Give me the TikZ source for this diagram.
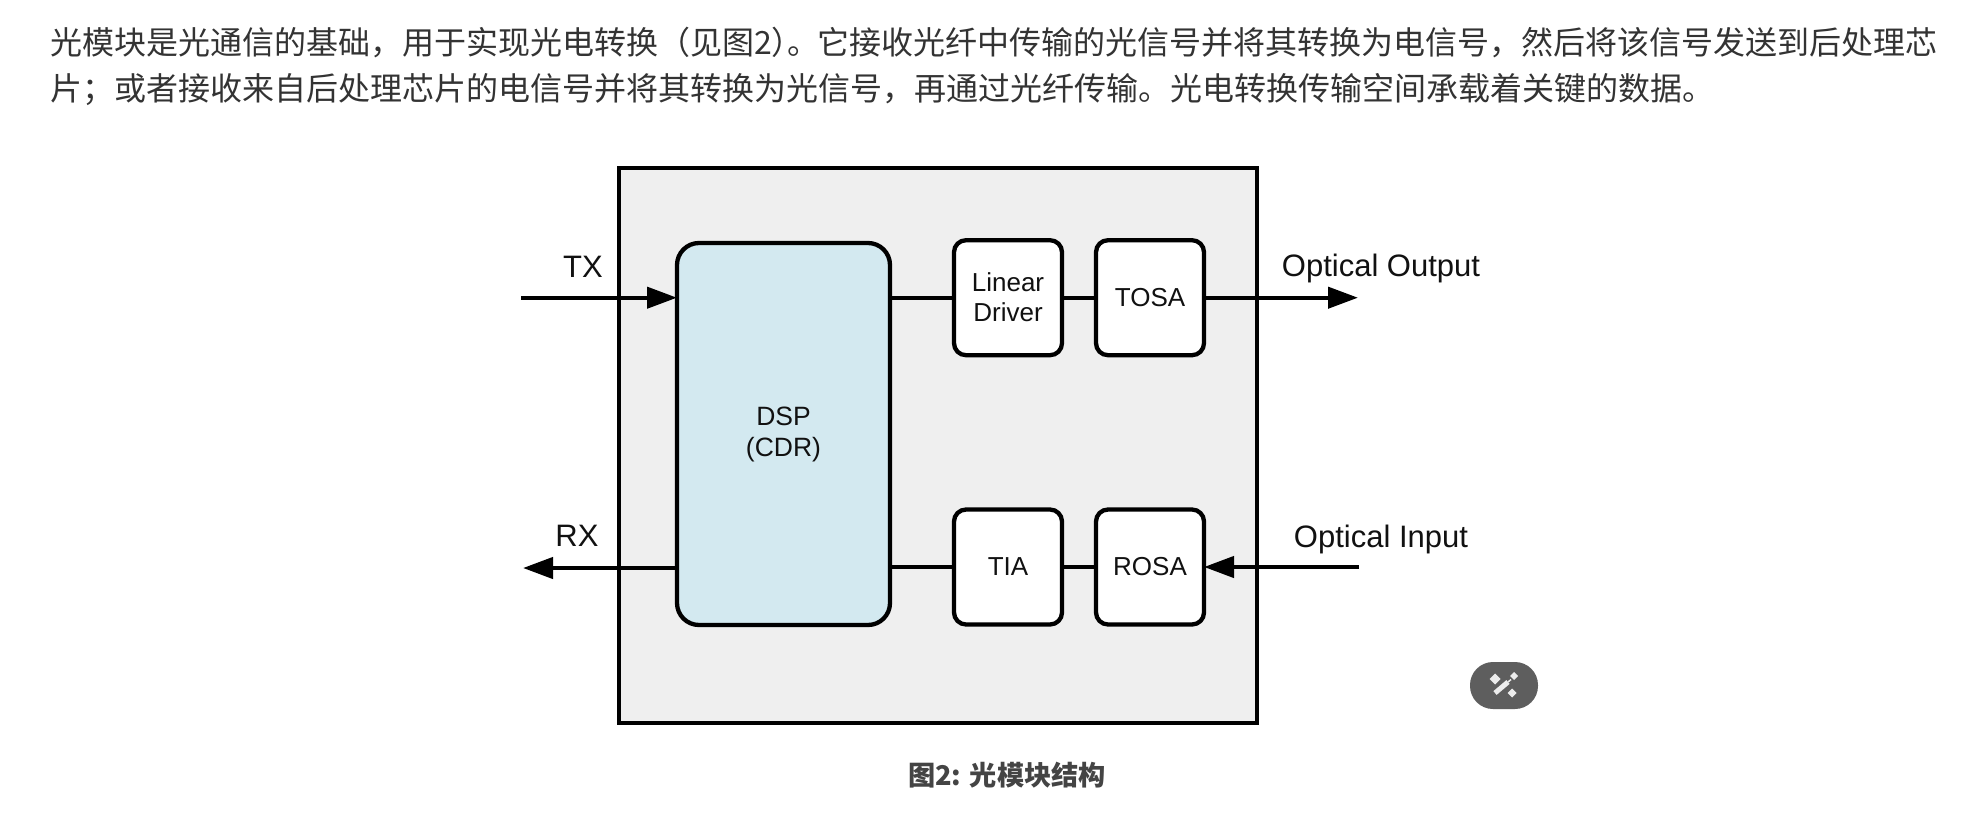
\documentclass[tikz,border=0pt]{standalone}
\usepackage{fontspec}
\setmainfont{Liberation Sans}
\newfontfamily\cjk{Noto Sans CJK SC}
\usetikzlibrary{arrows.meta}
\definecolor{bodytxt}{HTML}{333333}
\definecolor{captxt}{HTML}{444444}
\definecolor{diagtxt}{HTML}{111111}
\definecolor{modbg}{HTML}{EFEFEF}
\definecolor{dspbg}{HTML}{D3E9F0}
\definecolor{pillbg}{HTML}{5E5E5E}
\definecolor{wand}{HTML}{ECECEC}
\tikzset{
  x=1pt,y=-1pt,
  outerbox/.style={draw=black,line width=4pt,fill=modbg,minimum width=638pt,minimum height=555pt,inner sep=0pt,outer sep=0pt},
  dspbox/.style={draw=black,line width=4.3pt,fill=dspbg,rounded corners=22pt,minimum width=213pt,minimum height=382pt,inner sep=0pt,outer sep=0pt,align=center,text=diagtxt,font=\fontsize{26.5}{31}\selectfont},
  smallbox/.style={draw=black,line width=4.3pt,fill=white,rounded corners=12pt,minimum width=108pt,minimum height=115pt,inner sep=0pt,outer sep=0pt,align=center,text=diagtxt,font=\fontsize{26}{30}\selectfont},
  conn/.style={line width=4.3pt,draw=black},
  arr/.style={conn,-{Triangle[length=30pt,width=21pt]}},
  sig/.style={inner sep=0pt,text=diagtxt,font=\fontsize{31}{36}\selectfont},
  bodyline/.style={anchor=base west,inner sep=0pt,text=bodytxt,font=\fontsize{32}{38}\selectfont\cjk},
  pillshape/.style={fill=pillbg,draw=none,rounded corners=23pt},
  sparkle/.style={fill=wand,draw=none},
}
\begin{document}
\begin{tikzpicture}
\useasboundingbox (0,0) rectangle (1967,819);
\fill[white] (0,0) rectangle (1967,819);
\node[bodyline] (l1a) at (50,54) {光模块是光通信的基础，用于实现光电转换（见图2};
\node[bodyline] (l1b) at (771,54) {）};
\node[bodyline] (l1c) at (787,54) {。};
\node[bodyline] (l1d) at (817,54) {它接收光纤中传输的光信号并将其转换为电信号，然后将该信号发送到后处理芯};
\node[bodyline] (l2) at (50,100.5) {片；或者接收来自后处理芯片的电信号并将其转换为光信号，再通过光纤传输。光电转换传输空间承载着关键的数据。};
\node[outerbox] (mod) at (938,445) {};
\coordinate (txin) at (521,297.7);
\coordinate (txout) at (1358,297.7);
\coordinate (rxout) at (523,568);
\coordinate (rxin) at (1359,567);
\node[dspbox] (dsp) at (783.5,434) {DSP\\(CDR)};
\node[smallbox] (ld) at (1008,297.7) {Linear\\Driver};
\node[smallbox] (tosa) at (1150,297.7) {TOSA};
\node[smallbox] (tia) at (1008,567) {TIA};
\node[smallbox] (rosa) at (1150,567) {ROSA};
\draw[arr] (txin) -- (dsp.west |- txin);
\draw[conn] (dsp.east |- ld) -- (ld.west);
\draw[conn] (ld.east) -- (tosa.west);
\draw[arr] (tosa.east) -- (txout);
\draw[arr] (rxin) -- (rosa.east);
\draw[conn] (rosa.west) -- (tia.east);
\draw[conn] (tia.west) -- (dsp.east |- tia);
\draw[arr] (dsp.west |- rxout) -- (rxout);
\node[sig] (tx) at (583,267) {TX};
\node[sig] (rx) at (577,536) {RX};
\node[sig] (oo) at (1381,268) {Optical Output};
\node[sig] (oi) at (1381,539) {Optical Input};
\node[inner sep=0pt,text=captxt,font=\fontsize{27.2}{33}\selectfont\cjk\bfseries] (cap) at (1007,775) {图2: 光模块结构};
\fill[pillshape] (1470,662) rectangle (1538,709);
\draw[wand,line width=5pt] (1495,693) -- (1508,682);
\draw[wand,line width=1.5pt] (1508,682) -- (1511,679.5);
\foreach \cx/\cy/\r in {1495/679/5.5,1514/676/4,1512/693/4.5}
  \fill[sparkle] (\cx-\r,\cy) -- (\cx,\cy-\r) -- (\cx+\r,\cy) -- (\cx,\cy+\r) -- cycle;
\end{tikzpicture}
\end{document}
